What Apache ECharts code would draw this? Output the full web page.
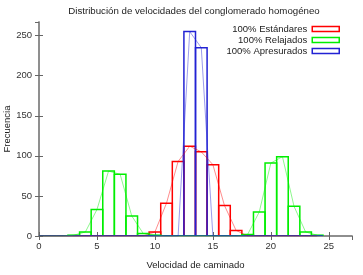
<!DOCTYPE html>
<html>
<head>
<meta charset="utf-8">
<script src="https://cdn.jsdelivr.net/npm/echarts@6/dist/echarts.min.js"></script>
<style>
  html, body { margin: 0; padding: 0; background: #fff; }
  #chart { width: 363px; height: 275px; }
</style>
</head>
<body>
<div id="chart"></div>
<script>
// bin centres (velocidad), one value per bin
let bins = [0,1,2,3,4,5,6,7,8,9,10,11,12,13,14,15,16,17,18,19,20,21,22,23,24];
let estandares = [0,0,0,0,0,0,0,0,0,0,5,41,93,112,105,89,38,7,0,0,0,0,0,0,0];
let relajados  = [0,0,0,1,5,33,81,77,25,3,1,0,0,0,0,0,0,0,2,30,91,99,37,5,1];
let apresurados= [0,0,0,0,0,0,0,0,0,0,0,0,0,255,235,0,0,0,0,0,0,0,0,0,0];
let xTicks = [0,5,10,15,20,25];
let yTicks = [0,50,100,150,200,250];

let names = ['100% Estándares','100% Relajados','100% Apresurados'];
let colors = ['#ff0000','#00ee00','#2222d4'];
let values = [estandares, relajados, apresurados];

const FONT = 'Liberation Sans';

function boxes(color){
  return function(params, api){
    let x = api.value(0), v = api.value(1);
    let p0 = api.coord([x - 0.5, 0]);
    let p1 = api.coord([x + 0.5, v]);
    return {
      type: 'rect',
      shape: {x: p0[0], y: p1[1], width: p1[0] - p0[0], height: p0[1] - p1[1]},
      style: {fill: 'none', stroke: color, lineWidth: 1.5}
    };
  };
}

let series = [];
for (let i = 0; i < 3; i++) {
  let d = bins.map((b, k) => [b, values[i][k]]);
  series.push({
    name: names[i], type: 'custom', renderItem: boxes(colors[i]),
    clip: true, data: d, itemStyle: {color: colors[i]}
  });
  series.push({
    name: names[i] + ' linea', type: 'line', data: d, symbol: 'none',
    lineStyle: {color: colors[i], width: 1, opacity: 0.45}, clip: true
  });
}

let chart = echarts.init(document.getElementById('chart'), null, {renderer: 'canvas'});

let axisCommon = {
  axisLine: {show: true, lineStyle: {color: '#888', width: 1.5}},
  axisTick: {show: true, inside: true, length: 4, lineStyle: {color: '#666'}},
  splitLine: {show: false}
};

chart.setOption({
  animation: false,
  title: {
    text: 'Distribución de velocidades del conglomerado homogéneo',
    left: 189, top: 1, textAlign: 'center',
    textStyle: {fontFamily: FONT, fontSize: 9.7, fontWeight: 'normal', color: '#222'}
  },
  legend: {
    orient: 'vertical', right: 23, top: 24, align: 'right', padding: 0,
    itemWidth: 27, itemHeight: 5, itemGap: 1, icon: 'rect',
    textStyle: {fontFamily: FONT, fontSize: 9.5, color: '#222'},
    data: names.map((n, i) => ({name: n, itemStyle: {color: '#fff', borderColor: colors[i], borderWidth: 1.5}}))
  },
  grid: {left: 39, right: 11, top: 22, bottom: 39, outerBoundsMode: 'none', containLabel: false},
  xAxis: [
    Object.assign({}, axisCommon, {
      type: 'value', min: 0, max: 27, interval: 5,
      name: 'Velocidad de caminado', nameLocation: 'middle', nameGap: 24, nameMoveOverlap: false,
      nameTextStyle: {fontFamily: FONT, fontSize: 9.5, color: '#222'},
      axisLabel: {fontFamily: FONT, fontSize: 9.5, color: '#333', margin: 5, showMaxLabel: false,
        formatter: v => xTicks.includes(v) ? String(v) : ''}
    }),
    Object.assign({}, axisCommon, {
      type: 'value', position: 'top', min: 0, max: 27, interval: 5,
      axisLabel: {show: false}
    })
  ],
  yAxis: [
    Object.assign({}, axisCommon, {
      type: 'value', min: 0, max: 267, interval: 50,
      name: 'Frecuencia', nameLocation: 'middle', nameGap: 27, nameMoveOverlap: false,
      nameTextStyle: {fontFamily: FONT, fontSize: 9.5, color: '#222'},
      axisLabel: {fontFamily: FONT, fontSize: 9.5, color: '#333', margin: 7, showMaxLabel: false,
        formatter: v => yTicks.includes(v) ? String(v) : ''}
    }),
    Object.assign({}, axisCommon, {
      type: 'value', position: 'right', min: 0, max: 267, interval: 50,
      axisLabel: {show: false}
    })
  ],
  series: series
});
</script>
</body>
</html>
